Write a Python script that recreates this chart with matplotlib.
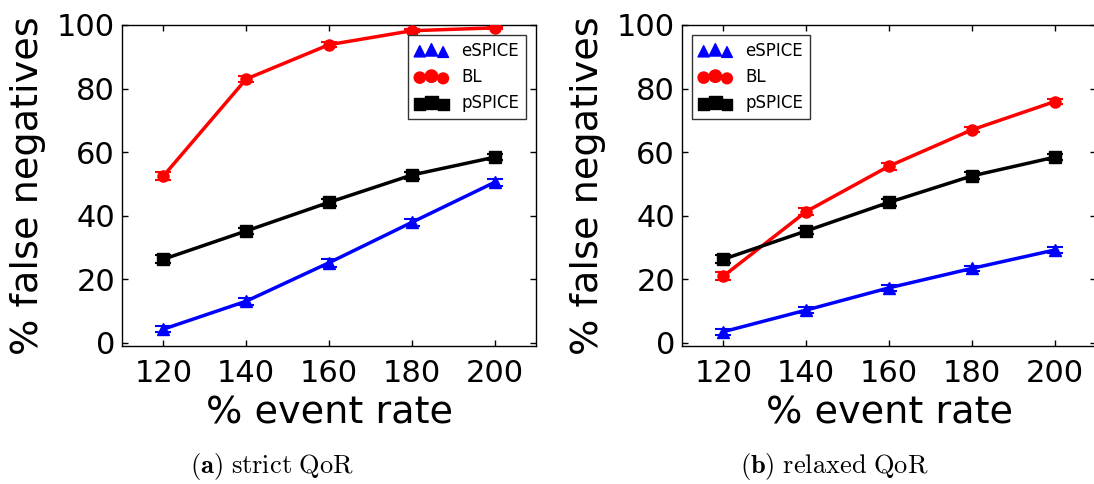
import matplotlib
matplotlib.use("Agg")
import matplotlib.pyplot as plt
from matplotlib.legend_handler import HandlerPathCollection

# ---- data ----
event_rate = [120, 140, 160, 180, 200]
xtick_labels = ["120", "140", "160", "180", "200"]
yticks = [0, 20, 40, 60, 80, 100]

strict_espice = [4.3, 13.1, 25.2, 37.9, 50.5]
strict_espice_err = [1.0, 1.1, 1.2, 1.1, 1.1]
strict_bl = [52.5, 83.0, 93.8, 98.2, 99.1]
strict_bl_err = [1.4, 0.8, 0.7, 0.5, 0.4]
strict_pspice = [26.3, 35.2, 44.2, 52.8, 58.4]
strict_pspice_err = [1.3, 1.0, 1.0, 1.1, 0.9]

relaxed_espice = [3.5, 10.3, 17.3, 23.4, 29.2]
relaxed_espice_err = [1.0, 1.0, 0.9, 0.9, 0.9]
relaxed_bl = [21.0, 41.3, 55.6, 67.0, 75.9]
relaxed_bl_err = [1.2, 1.2, 1.1, 0.8, 0.7]
relaxed_pspice = [26.3, 35.2, 44.2, 52.5, 58.4]
relaxed_pspice_err = [1.3, 1.0, 1.0, 1.1, 0.9]

series_names = ["eSPICE", "BL", "pSPICE"]
captions = [r"$\mathbf{(a)}\ \mathrm{strict\ QoR}$", r"$\mathbf{(b)}\ \mathrm{relaxed\ QoR}$"]

colors = ["#0000ff", "#ff0000", "#000000"]
markers = ["^", "o", "s"]

fig = plt.figure(figsize=(10.94, 4.84), dpi=100)
W, H = 1094, 484
ax1 = fig.add_axes([122 / W, 1 - 346 / H, 414 / W, 321 / H])
ax2 = fig.add_axes([682 / W, 1 - 346 / H, 414 / W, 321 / H])

panels = [
    (ax1, [strict_espice, strict_bl, strict_pspice],
     [strict_espice_err, strict_bl_err, strict_pspice_err], "upper right"),
    (ax2, [relaxed_espice, relaxed_bl, relaxed_pspice],
     [relaxed_espice_err, relaxed_bl_err, relaxed_pspice_err], "upper left"),
]

for ax, ys, errs, loc in panels:
    handles = []
    for name, y, e, c, m in zip(series_names, ys, errs, colors, markers):
        ax.errorbar(event_rate, y, yerr=e, color=c, marker=m, markersize=8,
                    linewidth=2.5, elinewidth=1.5, capsize=6, capthick=1.5,
                    markeredgecolor=c, zorder=3)
        h = ax.scatter([], [], marker=m, color=c, s=60)
        handles.append(h)
    hmap = {h: HandlerPathCollection(sizes=[65, 80, 60],
                                     yoffsets=[0.375, 0.5, 0.3125])
            for h in handles}
    leg = ax.legend(handles, series_names, loc=loc, scatterpoints=3,
                    fontsize=12, fancybox=False, framealpha=1,
                    edgecolor="#333333", handler_map=hmap,
                    borderaxespad=0.6)
    leg.get_frame().set_linewidth(1.0)

    ax.set_xlim(110, 210)
    ax.set_ylim(-1, 100)
    ax.set_xticks(event_rate)
    ax.set_xticklabels(xtick_labels)
    ax.set_yticks(yticks)
    ax.tick_params(axis="both", direction="in", top=True, right=True,
                   length=4, width=1, labelsize=22)
    ax.tick_params(axis="x", pad=9)
    ax.tick_params(axis="y", pad=5)
    ax.set_xlabel("% event rate", fontsize=27.5)
    ax.set_ylabel("% false negatives", fontsize=27.5)
    ax.xaxis.set_label_coords(0.5, -0.155)
    ax.yaxis.set_label_coords(-0.183, 0.5)
    for sp in ax.spines.values():
        sp.set_linewidth(1.0)
        sp.set_color("black")

fig.text(272 / W, 1 - 466 / H, captions[0], fontsize=19, ha="center",
         va="center", math_fontfamily="cm")
fig.text(834 / W, 1 - 466 / H, captions[1], fontsize=19, ha="center",
         va="center", math_fontfamily="cm")

fig.savefig("out.png", dpi=100)
